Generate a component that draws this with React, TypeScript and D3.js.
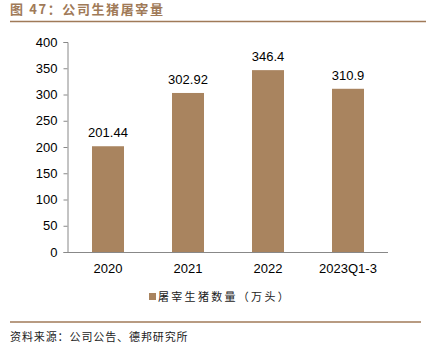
import {useEffect, useRef} from "react";
import * as d3 from "d3";

const categories = ["2020", "2021", "2022", "2023Q1-3"];
const values = [201.44, 302.92, 346.4, 310.9];
const valueLabels = ["201.44", "302.92", "346.4", "310.9"];
const yTicks = [0, 50, 100, 150, 200, 250, 300, 350, 400];
const seriesName = "屠宰生猪数量（万头）";
const title = "图 47：公司生猪屠宰量";
const source = "资料来源：公司公告、德邦研究所";

const barColor = "#a9845f";
const brown = "#a07a58";

function App() {
    const ref = useRef<SVGSVGElement>(null);

    useEffect(() => {
        const svg = d3.select(ref.current);
        svg.selectAll("*").remove();

        const W = 426, H = 353;
        const left = 68, right = 388, top = 42, bottom = 252;
        const numFont = "'Liberation Sans', Arial, sans-serif";
        const cjkFont = "'Noto Sans CJK SC', sans-serif";

        svg.append("rect").attr("width", W).attr("height", H).attr("fill", "#fff");

        // title and rules
        svg.append("text")
            .attr("x", 10).attr("y", 14)
            .attr("fill", brown)
            .attr("font-family", cjkFont)
            .attr("font-weight", "bold")
            .attr("font-size", 13)
            .attr("letter-spacing", 1.6)
            .text(title);
        svg.append("line").attr("x1", 10).attr("x2", 426).attr("y1", 21.5).attr("y2", 21.5)
            .attr("stroke", brown).attr("stroke-width", 1.5);
        svg.append("line").attr("x1", 10).attr("x2", 421).attr("y1", 322).attr("y2", 322)
            .attr("stroke", brown).attr("stroke-width", 1.5);

        let x = d3.scaleBand()
            .domain(categories)
            .range([left, right])
            .paddingInner(0.6)
            .paddingOuter(0.3);

        let y = d3.scaleLinear()
            .domain([0, 400])
            .range([bottom, top]);

        // Y axis
        const yAxis = svg.append("g")
            .attr("transform", `translate(${left - 0.5},0)`)
            .call(d3.axisLeft(y).tickValues(yTicks).tickSize(4).tickSizeOuter(4).tickPadding(6));
        yAxis.select(".domain").attr("stroke", "#888");
        yAxis.selectAll(".tick line").attr("stroke", "#888");
        yAxis.selectAll("text")
            .attr("font-family", numFont)
            .attr("font-size", 13)
            .attr("fill", "#000");

        // X axis baseline
        svg.append("line")
            .attr("x1", left - 0.5).attr("x2", right)
            .attr("y1", bottom + 0.5).attr("y2", bottom + 0.5)
            .attr("stroke", "#888");

        svg.append("g")
            .selectAll("text")
            .data(categories)
            .enter().append("text")
            .attr("x", d => x(d)! + x.bandwidth() / 2)
            .attr("y", 273)
            .attr("text-anchor", "middle")
            .attr("font-family", numFont)
            .attr("font-size", 13)
            .text(d => d);

        // bars
        svg.append("g")
            .selectAll("rect")
            .data(values)
            .enter().append("rect")
            .attr("x", (d, i) => x(categories[i])!)
            .attr("y", d => y(d))
            .attr("width", x.bandwidth())
            .attr("height", d => bottom - y(d))
            .attr("fill", barColor);

        svg.append("g")
            .selectAll("text")
            .data(values)
            .enter().append("text")
            .attr("x", (d, i) => x(categories[i])! + x.bandwidth() / 2)
            .attr("y", d => y(d) - 9)
            .attr("text-anchor", "middle")
            .attr("font-family", numFont)
            .attr("font-size", 13)
            .text((d, i) => valueLabels[i]);

        // legend
        svg.append("rect").attr("x", 149).attr("y", 293).attr("width", 7).attr("height", 7).attr("fill", barColor);
        svg.append("text")
            .attr("x", 158).attr("y", 301)
            .attr("font-family", cjkFont)
            .attr("font-size", 11)
            .attr("letter-spacing", 2.3)
            .attr("fill", "#222")
            .text(seriesName);

        // source
        svg.append("text")
            .attr("x", 10).attr("y", 341)
            .attr("font-family", cjkFont)
            .attr("font-size", 11)
            .attr("letter-spacing", 0.9)
            .attr("fill", "#222")
            .text(source);
    }, []);

    return <svg ref={ref} width={426} height={353}
                style={{position: "absolute", left: 0, top: 0, display: "block"}}/>;
}

export default App;
